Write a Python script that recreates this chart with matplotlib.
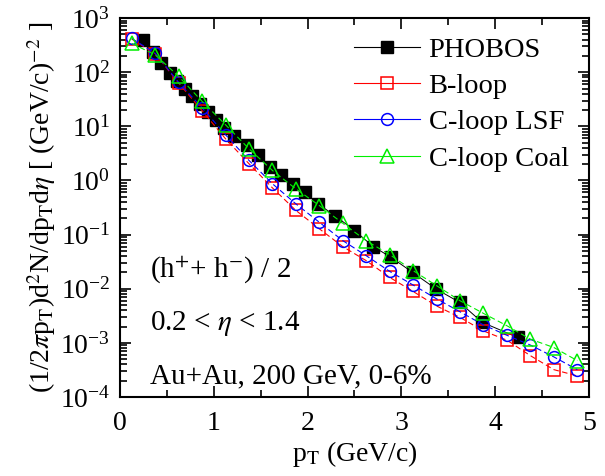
import matplotlib
matplotlib.use('Agg')
import matplotlib.pyplot as plt
from matplotlib.lines import Line2D
from matplotlib.ticker import LogLocator, LogFormatterMathtext, MultipleLocator, NullFormatter

plt.rcParams['font.family'] = ['Liberation Serif', 'DejaVu Serif']
plt.rcParams['mathtext.fontset'] = 'stix'

# PHOBOS data
pt_phobos = [0.25, 0.35, 0.44, 0.53, 0.61, 0.69, 0.77, 0.85, 0.94, 1.02, 1.11, 1.22,
             1.35, 1.47, 1.60, 1.72, 1.84, 1.97, 2.11, 2.29, 2.50, 2.70, 2.89, 3.12,
             3.37, 3.62, 3.86, 4.24]
y_phobos = [400, 240, 145, 98, 69, 50, 36, 26, 18.5, 13.2, 9.5, 6.5,
            4.45, 2.9, 1.76, 1.24, 0.87, 0.61, 0.37, 0.225, 0.119, 0.060, 0.038, 0.020,
            0.0099, 0.0056, 0.0024, 0.00126]

# model curves, common pT grid
pt_model = [0.125, 0.375, 0.625, 0.875, 1.125, 1.375, 1.625, 1.875, 2.125, 2.375,
            2.625, 2.875, 3.125, 3.375, 3.625, 3.875, 4.125, 4.375, 4.625, 4.875]
y_bloop = [410, 220, 63, 19.5, 5.9, 2.04, 0.73, 0.28, 0.128, 0.060,
           0.033, 0.0162, 0.0089, 0.0048, 0.00295, 0.00166, 0.00112, 0.00058, 0.00032, 0.000245]
y_lsf = [421, 225, 65, 22, 7.0, 2.35, 0.87, 0.37, 0.169, 0.0774,
         0.0408, 0.0209, 0.0117, 0.0065, 0.00375, 0.00214, 0.00138, 0.00091, 0.00055, 0.00032]
y_coal = [340, 210, 84, 29, 10.7, 3.86, 1.53, 0.70, 0.344, 0.162,
          0.077, 0.0427, 0.0216, 0.0114, 0.006, 0.0035, 0.00207, 0.00117, 0.00082, 0.00047]

fig = plt.figure(figsize=(6.05, 4.76), dpi=100)
ax = fig.add_axes([0.1983, 0.166, 0.7753, 0.796])

dash = (0, (5, 3))
ax.plot(pt_phobos, y_phobos, color='black', lw=0.7, marker='s', ms=8,
        mfc='black', mec='black')
ax.plot(pt_model, y_bloop, color='red', lw=0.8, ls=dash, marker='s', ms=8,
        mfc='none', mec='red', mew=1.1)
ax.plot(pt_model, y_lsf, color='blue', lw=0.8, ls=dash, marker='o', ms=8.5,
        mfc='none', mec='blue', mew=1.1)
ax.plot(pt_model, y_coal, color='#00ee00', lw=0.8, ls=dash, marker='^', ms=9.5,
        mfc='none', mec='#00ee00', mew=1.1)

ax.set_yscale('log')
ax.set_xlim(0, 5)
ax.set_ylim(1e-4, 1e3)
ax.xaxis.set_major_locator(MultipleLocator(1))
ax.xaxis.set_minor_locator(MultipleLocator(0.5))
ax.yaxis.set_major_locator(LogLocator(base=10, numticks=20))
ax.yaxis.set_major_formatter(LogFormatterMathtext())
ax.yaxis.set_minor_locator(LogLocator(base=10, subs=range(2, 10), numticks=20))
ax.yaxis.set_minor_formatter(NullFormatter())
ax.tick_params(which='both', direction='in', top=True, right=True, labelsize=20, width=1.2)
ax.tick_params(which='major', length=8, pad=7)
ax.tick_params(axis='x', which='major', pad=10)
ax.tick_params(which='minor', length=5)
for s in ax.spines.values():
    s.set_linewidth(1.5)

ax.set_xlabel(r'p$_\mathrm{T}$ (GeV/c)', fontsize=20, labelpad=2)
ax.set_ylabel(r'(1/2$\pi$p$_\mathrm{T}$)d$^2$N/dp$_\mathrm{T}$d$\eta$ [ (GeV/c)$^{-2}$ ]',
              fontsize=20, labelpad=1)

# legend with solid-line handles
handles = [
    Line2D([], [], color='black', lw=0.8, marker='s', ms=8, mfc='black', mec='black'),
    Line2D([], [], color='red', lw=0.8, marker='s', ms=8, mfc='none', mec='red', mew=1.1),
    Line2D([], [], color='blue', lw=0.8, marker='o', ms=8.5, mfc='none', mec='blue', mew=1.1),
    Line2D([], [], color='#00ee00', lw=0.8, marker='^', ms=9.5, mfc='none', mec='#00ee00', mew=1.1),
]
labels = ['PHOBOS', 'B-loop', 'C-loop LSF', 'C-loop Coal']
ax.legend(handles, labels, loc='upper left', bbox_to_anchor=(0.50, 0.95), frameon=False,
          fontsize=20.5, handlelength=2.3, handletextpad=0.3, labelspacing=0.36,
          borderaxespad=0, borderpad=0)

ax.text(0.063, 0.317, r'(h$^{+}$+ h$^{-}$) / 2', transform=ax.transAxes, fontsize=21)
ax.text(0.063, 0.176, r'0.2 < $\eta$ < 1.4', transform=ax.transAxes, fontsize=21)
ax.text(0.063, 0.037, 'Au+Au, 200 GeV, 0-6%', transform=ax.transAxes, fontsize=21)

fig.savefig('out.png', dpi=100)
